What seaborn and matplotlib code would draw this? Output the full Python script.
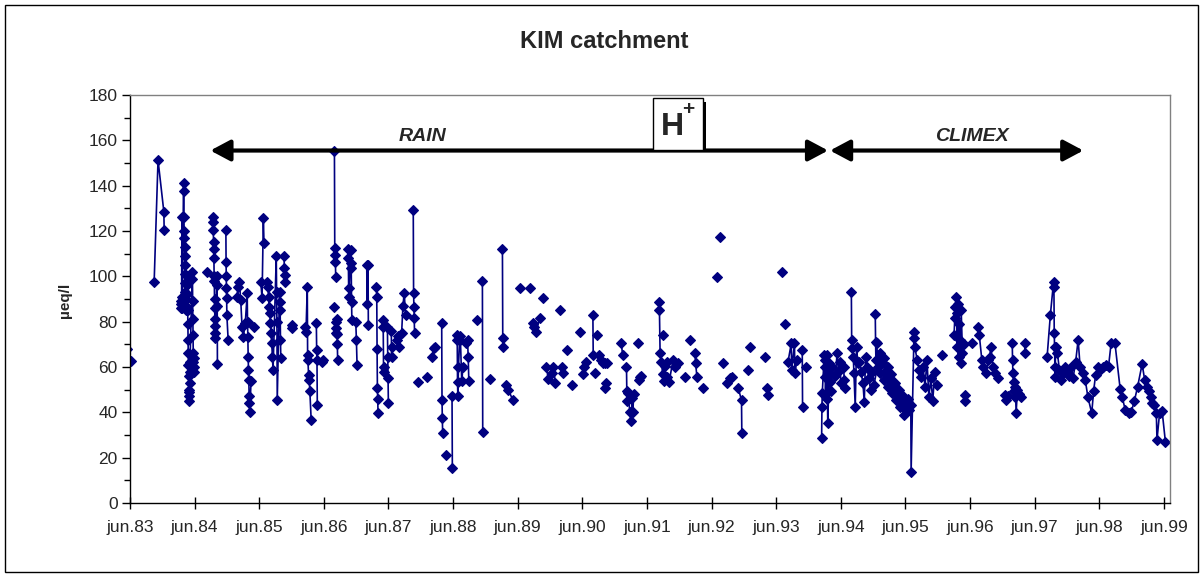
#!/usr/bin/env python3
"""KIM catchment - H+ concentration, RAIN / CLIMEX periods"""

import numpy as np
import pandas as pd
import matplotlib
matplotlib.use('Agg')
import matplotlib.pyplot as plt
import seaborn as sns
from matplotlib.patches import Rectangle

nan = np.nan

# sample dates (decimal years) and H+ (ueq/l), nan = gap in the series
dates_a = [
    1983.37, 1983.43, nan,
    1983.79, 1983.85, 1983.94, 1983.945, nan,
    1984.200, 1984.205, 1984.210, 1984.215, 1984.220, 1984.225,
    1984.245, 1984.248, 1984.251, 1984.254, 1984.257, 1984.260, 1984.263, 1984.266, 1984.269, 1984.272, 1984.275, 1984.278, 1984.281, 1984.284,
    1984.300, 1984.303, 1984.306, 1984.309, 1984.312, 1984.315, 1984.318, 1984.321, 1984.324, 1984.327, 1984.330, 1984.333, 1984.336, 1984.339, 1984.342, 1984.345,
    1984.380, 1984.383, 1984.386, 1984.389, 1984.392, 1984.395, 1984.398, 1984.401, 1984.404, 1984.407, nan,
    1984.61, nan,
    1984.700, 1984.703, 1984.706, 1984.709, 1984.712, 1984.715, 1984.718, 1984.721, 1984.724, 1984.727, 1984.730, 1984.733, 1984.736, 1984.739, 1984.760, 1984.763, 1984.766, 1984.769, nan,
    1984.900, 1984.903, 1984.906, 1984.909, 1984.912, 1984.915, 1984.935, nan,
    1985.07, 1985.09, 1985.11, 1985.13, 1985.15, 1985.17, 1985.20, 1985.23, 1985.235, 1985.24, 1985.245, 1985.25, 1985.255, 1985.26, 1985.265, 1985.27, 1985.29, nan,
    1985.33, nan,
    1985.44, 1985.46, 1985.48, 1985.49, nan,
    1985.54, 1985.55, 1985.56, 1985.57, 1985.58, 1985.59, 1985.60, 1985.61, 1985.62, 1985.63, 1985.68, 1985.685, 1985.69, 1985.695, 1985.73, 1985.735, 1985.74, 1985.745, 1985.75, nan,
    1985.80, 1985.805, 1985.81, 1985.815, nan,
    1985.92, 1985.93, nan,
    1986.13, 1986.14, 1986.16, 1986.165, 1986.17, 1986.18, 1986.19, 1986.20, 1986.22, nan,
    1986.30, 1986.305, 1986.31, 1986.315, nan,
    1986.38, 1986.40,
]
ueq_a = [
    68, 62.6, nan,
    97.6, 151.3, 128.5, 120.3, nan,
    89, 86, 88, 91, 126, 86,
    141.3, 137.5, 126, 120, 117, 113, 109, 105, 101, 97, 93, 90, 87, 85,
    100, 96, 92, 85, 79, 72, 66, 61, 56, 50, 47, 45, 49, 53, 58, 62,
    102, 99, 89, 81, 74, 66, 62, 60, 58, 64, nan,
    102, nan,
    126.3, 124, 120.4, 115, 112, 108, 100, 98, 90, 86, 81, 78, 75, 73, 100, 96, 87, 61.3, nan,
    120.4, 106.5, 100, 94.7, 90.3, 83, 72, nan,
    91, 95.4, 97.6, 89.5, 77.8, 73.4, 79.3, 92.5, 80, 73.4, 64.6, 58.7, 54.3, 47, 44, 40.3, 54, nan,
    77.8, nan,
    97.6, 90.3, 125.6, 114.6, nan,
    97.6, 95.4, 91, 86.6, 83.7, 79.3, 74.9, 70.5, 64.6, 58.7, 108.8, 93, 80, 45.5, 93.2, 88.8, 85.2, 72, 63.8, nan,
    108.8, 103.6, 100.7, 97.6, nan,
    78.5, 77, nan,
    77.8, 75.6, 95.4, 65.3, 63, 56.4, 54.3, 49.2, 36.6, nan,
    79.3, 67.5, 63, 43.2, nan,
    62, 63,
]

dates_b = [
    1986.58, 1986.585, 1986.59, 1986.595, 1986.60, nan,
    1986.57, nan,
    1986.60, 1986.605, 1986.61, 1986.615, 1986.62, 1986.625, 1986.63, nan,
    1986.79, 1986.795, 1986.80, 1986.805, 1986.83, 1986.835, 1986.84, 1986.845, 1986.85, nan,
    1986.91, 1986.92, 1986.93, nan,
    1987.08, 1987.085, 1987.10, 1987.105, nan,
    1987.23, 1987.235, 1987.24, 1987.245, 1987.25, 1987.255, nan,
    1987.33, 1987.335, 1987.34, 1987.345, nan,
    1987.40, 1987.405, 1987.41, 1987.415, nan,
    1987.46, 1987.465, 1987.47, nan,
    1987.55, 1987.56, 1987.58, 1987.62, 1987.64, 1987.66, 1987.68, nan,
    1987.80, 1987.805, 1987.81, 1987.815, 1987.82, nan,
    1987.88, nan,
    1988.01, nan,
    1988.09, 1988.12, 1988.14, nan,
    1988.24, 1988.245, 1988.25, 1988.255, nan,
    1988.31, nan,
    1988.40, 1988.405, nan,
    1988.47, 1988.48, 1988.485, 1988.49, 1988.50, 1988.52, 1988.53, 1988.55, 1988.57, nan,
    1988.62, 1988.64, 1988.65, 1988.66, nan,
    1988.78, nan,
    1988.87, 1988.875, nan,
    1988.99, nan,
    1989.18, 1989.185, 1989.19, nan,
    1989.24, 1989.27, 1989.34, nan,
    1989.45, nan,
    1989.61, nan,
    1989.65, 1989.67, 1989.70, 1989.76, nan,
    1989.81, nan,
    1989.86, 1989.89, nan,
    1989.95, 1989.97, 1990.00,
]
ueq_b = [
    155.2, 112.3, 109.4, 106.4, 99.8, nan,
    86.6, nan,
    80, 77, 75, 81.2, 74.6, 70, 63, nan,
    112, 108, 95, 91, 111.6, 105.8, 103.5, 88.8, 80.7, nan,
    80, 72, 61, nan,
    105, 88, 105, 78.5, nan,
    95.4, 91, 67.8, 50.8, 45.7, 39.8, nan,
    80.6, 77.7, 60, 58, nan,
    77.7, 64.6, 55, 44, nan,
    76, 64.6, 69, nan,
    72, 73.5, 69, 75, 86.8, 92.7, 83, nan,
    129.3, 92.7, 86.6, 81.4, 75, nan,
    53.5, nan,
    55.7, nan,
    64.6, 68.3, 69, nan,
    79.3, 45.4, 37.3, 30.7, nan,
    21.2, nan,
    47, 15.3, nan,
    72, 74, 53.5, 47, 60.2, 73.5, 72, 53.7, 60, nan,
    70.5, 72, 64.6, 53.7, nan,
    80.6, nan,
    97.9, 31.4, nan,
    54.5, nan,
    111.9, 72.9, 69, nan,
    52.2, 50, 45.5, nan,
    95, nan,
    95, nan,
    79.3, 77.8, 75.6, 81.5, nan,
    90.3, nan,
    60, 54.5, nan,
    57.3, 60, 52.9,
]

dates_c = [
    1990.07, nan,
    1990.10, 1990.12, nan,
    1990.18, nan,
    1990.26, nan,
    1990.38, nan,
    1990.42, 1990.44, 1990.47, nan,
    1990.58, 1990.585, nan,
    1990.62, nan,
    1990.65, nan,
    1990.68, 1990.70, 1990.73, 1990.76, 1990.80, nan,
    1990.76, 1990.78, nan,
    1991.02, 1991.04, nan,
    1991.10, 1991.105, 1991.11, 1991.13, 1991.15, 1991.17, 1991.19, 1991.20, 1991.21, nan,
    1991.28, nan,
    1991.29, 1991.31, 1991.33, nan,
    1991.60, 1991.61, 1991.62, 1991.64, 1991.66, 1991.68, 1991.70, 1991.72, nan,
    1991.66, nan,
    1991.73, 1991.76, 1991.82, 1991.85, 1991.90, nan,
    1992.01, nan,
    1992.09, nan,
    1992.16, 1992.17, 1992.19, nan,
    1992.29, nan,
    1992.50, nan,
    1992.55, nan,
    1992.60, nan,
    1992.66, 1992.70, 1992.73, nan,
    1992.83, 1992.88, 1992.885, nan,
    1992.98, nan,
    1993.01, nan,
    1993.25, nan,
    1993.28, 1993.285, nan,
    1993.51, nan,
    1993.56, nan,
    1993.60, 1993.65, 1993.655, 1993.70, 1993.705, 1993.74, nan,
    1993.82, 1993.825, nan,
    1993.88,
]
ueq_c = [
    85.2, nan,
    60.2, 57.3, nan,
    67.5, nan,
    52, nan,
    75.5, nan,
    57, 60, 62, nan,
    82.9, 65.3, nan,
    57.3, nan,
    74, nan,
    65.3, 63, 61.6, 61.6, 61.6, nan,
    50.6, 52.8, nan,
    70.4, 65.3, nan,
    60.2, 49.2, 44.8, 48.4, 40.3, 36, 46.3, 40.3, 48, nan,
    70.4, nan,
    54.3, 55.7, 56, nan,
    88.7, 85.1, 66, 62.3, 56.8, 54, 60.6, 62, nan,
    74.2, nan,
    55.7, 53.4, 63, 60, 61.6, nan,
    55.7, nan,
    72, nan,
    66, 61.6, 55.7, nan,
    50.6, nan,
    99.8, nan,
    117.5, nan,
    61.6, nan,
    52.8, 55, 55.7, nan,
    50.6, 45.4, 30.7, nan,
    58.7, nan,
    69, nan,
    64.5, nan,
    50.6, 47.7, nan,
    102, nan,
    79, nan,
    62.3, 70.4, 58.7, 70.4, 57.3, 63, nan,
    67.5, 42.5, nan,
    60.2,
]

dates_d = [
    1994.12, 1994.125, 1994.13, 1994.16, 1994.165, 1994.17, 1994.175, 1994.18, 1994.20, 1994.205, 1994.21, 1994.215, 1994.24, 1994.245, 1994.25, 1994.26, 1994.28, nan,
    1994.33, 1994.36, 1994.38, 1994.40, 1994.42, nan,
    1994.46, 1994.47, 1994.48, nan,
    1994.58, 1994.585, 1994.59, 1994.61, 1994.62, 1994.64, 1994.66, 1994.68, 1994.70, 1994.73, 1994.76, 1994.78, 1994.80, 1994.82, 1994.85, 1994.88, nan,
    1994.95, 1994.955, 1994.96, 1994.97, 1995.00, 1995.03, 1995.06, 1995.09, 1995.12, 1995.15, 1995.18, 1995.21, 1995.24, 1995.27, 1995.30, 1995.33, 1995.36, 1995.40, 1995.44, 1995.47, 1995.50, 1995.505,
    1995.55, 1995.555, 1995.56, 1995.60, 1995.63, 1995.66, 1995.69, 1995.72, 1995.75, 1995.78, 1995.81, 1995.84, 1995.87, 1995.90, nan,
    1994.90, 1994.93, 1995.02, 1995.05, 1995.08, 1995.11, 1995.14, 1995.17, 1995.20, 1995.23, 1995.26, 1995.29, 1995.32, 1995.35, 1995.38, 1995.42, 1995.46, nan,
    1995.99, nan,
    1996.17, 1996.18, 1996.19, 1996.20, 1996.21, 1996.22, 1996.23, 1996.24, 1996.25, 1996.26, 1996.27, 1996.28, 1996.30, 1996.32, nan,
    1996.34, 1996.345, nan,
    1996.45, nan,
    1996.54, 1996.56, 1996.60, 1996.62, 1996.66, 1996.70, 1996.72, 1996.74, 1996.77, 1996.80, 1996.85, nan,
    1996.96, 1996.98, 1997.00, nan,
    1997.07, 1997.075, 1997.08, 1997.09, 1997.10, 1997.11, 1997.12, 1997.13, 1997.15, 1997.18, 1997.21, nan,
    1997.26, 1997.27, nan,
    1997.61, 1997.66, 1997.71, 1997.715, 1997.72, 1997.725, 1997.73, 1997.735, 1997.74, 1997.77, 1997.80, 1997.83, 1997.86, 1997.89, 1997.92, 1997.95, 1997.98, 1998.01, 1998.05, 1998.09, 1998.12,
    1998.16, 1998.20, 1998.24, 1998.30, 1998.33, 1998.36, 1998.40, 1998.44, 1998.48, 1998.52, 1998.56,
    1998.60, 1998.66, 1998.74, 1998.77, 1998.82, 1998.87, 1998.91, 1998.96, 1999.01, 1999.08, 1999.12, 1999.15, 1999.18, 1999.21, 1999.24, 1999.27, 1999.30, 1999.31, 1999.35, 1999.39, 1999.44,
]
ueq_d = [
    28.5, 42.5, 48.4, 65.3, 63, 60, 55.7, 48, 65.3, 60, 45.7, 35.4, 61.6, 57, 53.4, 49.6, 60, nan,
    56, 66, 58, 62, 53, nan,
    60.2, 54.3, 50.6, nan,
    92.9, 71.9, 68.2, 64.5, 57.2, 42.5, 69, 61.6, 62.3, 57.9, 52.8, 44.4, 64.5, 60, 55, 50, nan,
    83.2, 71.2, 63, 70.4, 60.2, 57.2, 62, 54.3, 58, 51.3, 55, 48.4, 52, 45.4, 49, 42.5, 46, 38.8, 44, 41, 43.2, 13.8,
    75.5, 72.6, 69, 63, 58.7, 55.7, 60, 51.3, 63, 46.9, 55, 44.9, 58, 52, nan,
    58, 52, 66, 62, 64, 58, 60, 55, 57, 52, 53, 48, 50, 45, 47, 41, 46, nan,
    65.3, nan,
    74.1, 81.4, 86.6, 91, 83.7, 69, 88, 64.5, 79, 72, 61.6, 85, 66, 70, nan,
    47.6, 44.9, nan,
    70.4, nan,
    77.8, 74.1, 63, 60, 57.2, 63, 64.5, 69, 60, 57.2, 55, nan,
    47.6, 45.4, 47, nan,
    70.4, 63, 57.3, 53.5, 49.6, 46.9, 51, 39.6, 50, 48, 46.9, nan,
    70.4, 66, nan,
    64.6, 83, 97.7, 95.5, 75, 69, 60.2, 55.8, 69, 66, 58.7, 54.3, 57.3, 60.2, 58, 56, 60.2, 55, 62, 72, 60.2,
    57.3, 54.3, 46.9, 39.6, 49.6, 56.4, 60.2, 59, 60.2, 60.9, 60.2,
    70.4, 70.4, 50.4, 46.9, 41, 39.6, 40, 45, 51.3, 61.3, 54.3, 51.3, 49.6, 46.9, 44, 43.2, 39.6, 27.8, 39.6, 40.5, 27.1,
]

tick_years = list(range(1983, 2000))
tick_labels = ['jun.%02d' % (y % 100) for y in tick_years]

# join the periods, split into connected runs at the gaps
dates = np.array(dates_a + [nan] + dates_b + [nan] + dates_c + [nan] + dates_d)
ueq = np.array(ueq_a + [nan] + ueq_b + [nan] + ueq_c + [nan] + ueq_d)
run = np.cumsum(np.isnan(ueq))
df = pd.DataFrame({'date': dates, 'ueq': ueq, 'run': run}).dropna()

sns.set_style('ticks')
plt.rcParams['font.family'] = ['Liberation Sans', 'DejaVu Sans']

navy = '#000080'
fig = plt.figure(figsize=(12.04, 5.75), dpi=100)
ax = fig.add_axes([0.108, 0.1252, 0.864, 0.7096])

sns.lineplot(data=df, x='date', y='ueq', units='run', estimator=None, sort=False,
             color=navy, linewidth=1.2, marker='D', markersize=5.6,
             markeredgecolor=navy, markeredgewidth=0.8, legend=False, ax=ax)

jun = 5 / 12
ax.set_xlim(1983 + jun, 1999.516)
ax.set_ylim(0, 180)
ax.set_xticks([y + jun for y in tick_years])
ax.set_xticklabels(tick_labels)
ax.set_yticks(range(0, 181, 20))
ax.set_yticks(range(10, 180, 20), minor=True)
ax.set_xlabel('')
ax.set_ylabel('')
ax.tick_params(axis='x', direction='inout', length=8, width=1, labelsize=12.5, pad=8, color='black')
ax.tick_params(axis='y', which='major', direction='out', length=6, width=1, labelsize=12.5, pad=3, color='black')
ax.tick_params(axis='y', which='minor', direction='out', length=4, width=1, color='black')
for side in ['left', 'bottom']:
    ax.spines[side].set_color('black')
    ax.spines[side].set_linewidth(1)
for side in ['top', 'right']:
    ax.spines[side].set_visible(True)
    ax.spines[side].set_color('#808080')
    ax.spines[side].set_linewidth(1)

# project periods
arrow = dict(arrowstyle='<|-|>,head_length=0.6,head_width=0.32', color='black',
             lw=3, mutation_scale=20, shrinkA=0, shrinkB=0)
ax.annotate('', xy=(1994.22, 155.5), xytext=(1984.66, 155.5), arrowprops=arrow,
            annotation_clip=False)
ax.annotate('', xy=(1998.17, 155.5), xytext=(1994.25, 155.5), arrowprops=arrow,
            annotation_clip=False)
ax.text(1987.95, 161.8, 'RAIN', ha='center', va='center', fontsize=14,
        fontweight='bold', fontstyle='italic')
ax.text(1996.45, 161.8, 'CLIMEX', ha='center', va='center', fontsize=14,
        fontweight='bold', fontstyle='italic')

# H+ box with shadow
ax.add_patch(Rectangle((1991.55, 155.7), 0.78, 21.0, facecolor='black',
                       edgecolor='none', zorder=5, clip_on=False))
ax.add_patch(Rectangle((1991.51, 155.7), 0.78, 22.9, facecolor='white',
                       edgecolor='black', lw=1, zorder=6, clip_on=False))
ax.text(1991.81, 166.0, 'H', ha='center', va='center', fontsize=23,
        fontweight='bold', zorder=7)
ax.text(1992.05, 173.5, '+', ha='center', va='center', fontsize=15,
        fontweight='bold', zorder=7)

fig.text(0.502, 0.927, 'KIM catchment', ha='center', va='center',
         fontsize=17, fontweight='bold')
fig.text(0.054, 0.478, 'µeq/l', rotation=90, ha='center', va='center',
         fontsize=11, fontweight='bold')

fig.patches.append(Rectangle((0.004, 0.006), 0.991, 0.986, transform=fig.transFigure,
                             fill=False, edgecolor='black', lw=1))

plt.savefig('out.png', dpi=100)
plt.close()
